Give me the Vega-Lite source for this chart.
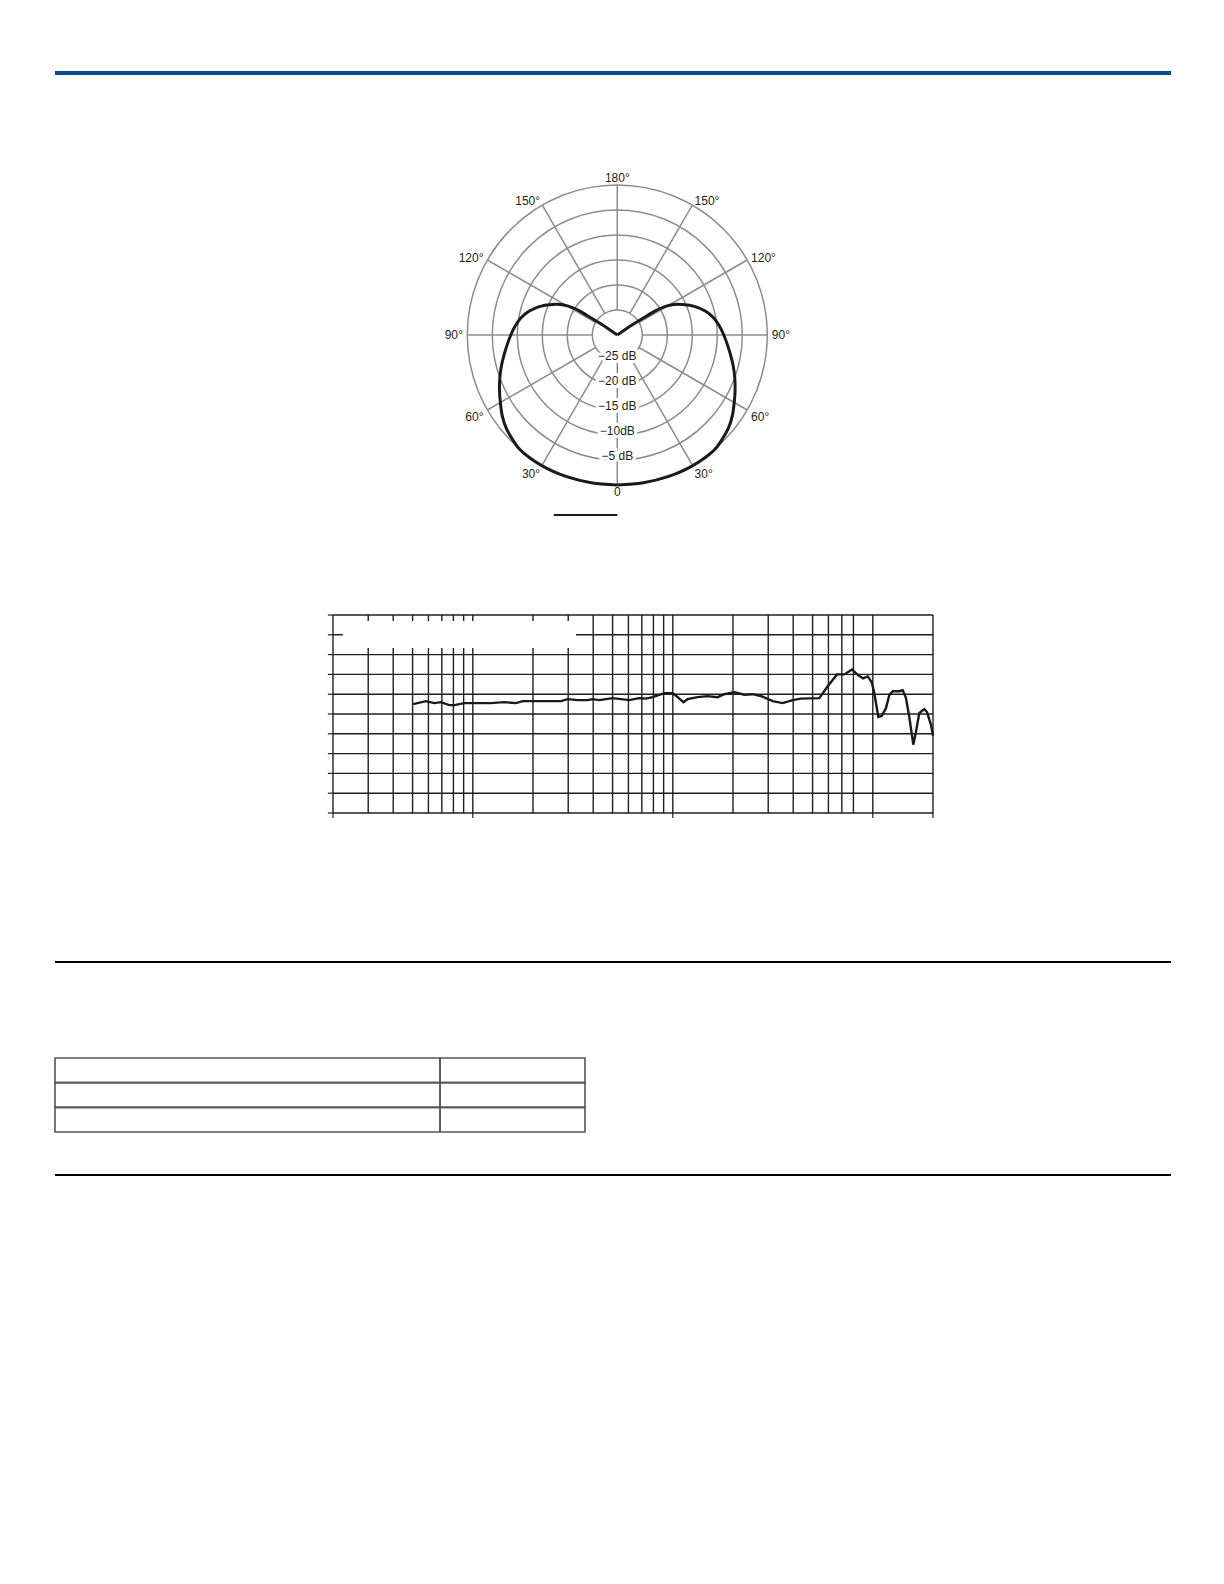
{
  "$schema": "https://vega.github.io/schema/vega-lite/v6.json",
  "padding": {"left": 54, "top": 71, "right": 0, "bottom": 0},
  "background": "white",
  "config": {"view": {"stroke": null}, "font": "Liberation Sans"},
  "datasets": {
    "polar": [
      {"angle": 0, "db": 0}, {"angle": 10, "db": 0}, {"angle": 20, "db": 0.1}, {"angle": 30, "db": 0.2},
      {"angle": 40, "db": 0.1}, {"angle": 45, "db": -0.4}, {"angle": 50, "db": -1.0}, {"angle": 55, "db": -1.9},
      {"angle": 60, "db": -3.0}, {"angle": 65, "db": -4.0}, {"angle": 70, "db": -5.0}, {"angle": 75, "db": -6.0},
      {"angle": 80, "db": -7.0}, {"angle": 85, "db": -7.9}, {"angle": 90, "db": -8.7}, {"angle": 95, "db": -9.5},
      {"angle": 100, "db": -10.4}, {"angle": 105, "db": -11.7}, {"angle": 110, "db": -13.4}, {"angle": 115, "db": -15.6},
      {"angle": 119, "db": -17.5}, {"angle": 122, "db": -20}, {"angle": 123, "db": -23}, {"angle": 124, "db": -26},
      {"angle": 125, "db": -28.5}, {"angle": 180, "db": -30}
    ],
    "angles": [
      {"angle": 0, "label": "0"}, {"angle": 30, "label": "30°"}, {"angle": 60, "label": "60°"},
      {"angle": 90, "label": "90°"}, {"angle": 120, "label": "120°"}, {"angle": 150, "label": "150°"},
      {"angle": 180, "label": "180°"}, {"angle": -30, "label": "30°"}, {"angle": -60, "label": "60°"},
      {"angle": -90, "label": "90°"}, {"angle": -120, "label": "120°"}, {"angle": -150, "label": "150°"}
    ],
    "freq": [
      {"freq": 50.4, "db": 1.0}, {"freq": 58.3, "db": 1.3}, {"freq": 64.2, "db": 1.1}, {"freq": 69.3, "db": 1.2},
      {"freq": 76.3, "db": 0.9}, {"freq": 80.9, "db": 0.9}, {"freq": 90.7, "db": 1.1}, {"freq": 100.6, "db": 1.1},
      {"freq": 123, "db": 1.1}, {"freq": 144, "db": 1.2}, {"freq": 164, "db": 1.1}, {"freq": 178, "db": 1.3},
      {"freq": 199, "db": 1.3}, {"freq": 276, "db": 1.3}, {"freq": 298, "db": 1.5}, {"freq": 334, "db": 1.4},
      {"freq": 375, "db": 1.4}, {"freq": 397, "db": 1.5}, {"freq": 428, "db": 1.4}, {"freq": 463, "db": 1.5},
      {"freq": 500, "db": 1.6}, {"freq": 551, "db": 1.5}, {"freq": 606, "db": 1.4}, {"freq": 678, "db": 1.6},
      {"freq": 735, "db": 1.55}, {"freq": 793, "db": 1.7}, {"freq": 908, "db": 2.1}, {"freq": 998, "db": 2.1},
      {"freq": 1058, "db": 1.7}, {"freq": 1130, "db": 1.2}, {"freq": 1186, "db": 1.5}, {"freq": 1331, "db": 1.7},
      {"freq": 1493, "db": 1.8}, {"freq": 1675, "db": 1.7}, {"freq": 1810, "db": 2.0}, {"freq": 2031, "db": 2.2},
      {"freq": 2279, "db": 1.95}, {"freq": 2508, "db": 2.0}, {"freq": 2814, "db": 1.75}, {"freq": 3158, "db": 1.3},
      {"freq": 3544, "db": 1.1}, {"freq": 3976, "db": 1.4}, {"freq": 4375, "db": 1.55}, {"freq": 5403, "db": 1.6},
      {"freq": 5951, "db": 2.8}, {"freq": 6622, "db": 4.0}, {"freq": 7203, "db": 4.0}, {"freq": 7871, "db": 4.5},
      {"freq": 8464, "db": 3.9}, {"freq": 8934, "db": 3.6}, {"freq": 9432, "db": 3.8}, {"freq": 9878, "db": 3.2},
      {"freq": 10178, "db": 2.1}, {"freq": 10658, "db": -0.3}, {"freq": 11081, "db": -0.2}, {"freq": 11641, "db": 0.6},
      {"freq": 12093, "db": 1.9}, {"freq": 12575, "db": 2.3}, {"freq": 13569, "db": 2.3}, {"freq": 14110, "db": 2.4},
      {"freq": 14655, "db": 1.6}, {"freq": 15224, "db": -0.3}, {"freq": 15942, "db": -3.1}, {"freq": 16444, "db": -1.8},
      {"freq": 17080, "db": 0.1}, {"freq": 18092, "db": 0.5}, {"freq": 18666, "db": 0.2}, {"freq": 19544, "db": -1.1},
      {"freq": 20000, "db": -2.2}
    ]
  },
  "spacing": 0,
  "bounds": "flush",
  "vconcat": [
    {
      "width": 1116, "height": 4,
      "data": {"values": [{"item": "header"}]},
      "mark": {"type": "rect", "color": "#0b4f8c"},
      "encoding": {
        "x": {"datum": 0, "type": "quantitative", "scale": {"domain": [0, 1], "nice": false}, "axis": null},
        "x2": {"datum": 1},
        "y": {"datum": 0, "type": "quantitative", "scale": {"domain": [0, 1], "nice": false}, "axis": null},
        "y2": {"datum": 1}
      }
    },
    {"width": 1, "height": 110, "data": {"values": []}, "mark": "point"},
    {
      "width": 1116, "height": 300,
      "layer": [
        {
          "data": {"values": [{"db": -25}, {"db": -20}, {"db": -15}, {"db": -10}, {"db": -5}, {"db": 0}]},
          "transform": [{"calculate": "datum.db + 30", "as": "r"}],
          "mark": {"type": "point", "shape": "circle", "filled": false, "color": "#8c8c8c", "strokeWidth": 1.5, "opacity": 1},
          "encoding": {
            "x": {"datum": 0, "type": "quantitative", "scale": {"domain": [-30, 30], "range": [412.3, 712.3], "nice": false, "zero": false}, "axis": null},
            "y": {"datum": 0, "type": "quantitative", "scale": {"domain": [-30, 30], "nice": false, "zero": false}, "axis": null},
            "size": {"field": "r", "type": "quantitative", "scale": {"type": "pow", "exponent": 2, "domain": [0, 30], "range": [0, 90000]}, "legend": null}
          }
        },
        {
          "data": {"values": [{"angle": 0}, {"angle": 30}, {"angle": 60}, {"angle": 90}, {"angle": 120}, {"angle": 150}, {"angle": 180}, {"angle": 210}, {"angle": 240}, {"angle": 270}, {"angle": 300}, {"angle": 330}]},
          "transform": [
            {"calculate": "5 * sin(datum.angle * PI / 180)", "as": "xa"},
            {"calculate": "-5 * cos(datum.angle * PI / 180)", "as": "ya"},
            {"calculate": "30 * sin(datum.angle * PI / 180)", "as": "xb"},
            {"calculate": "-30 * cos(datum.angle * PI / 180)", "as": "yb"}
          ],
          "mark": {"type": "rule", "color": "#8c8c8c", "strokeWidth": 1.5},
          "encoding": {
            "x": {"field": "xa", "type": "quantitative", "scale": {"domain": [-30, 30], "range": [412.3, 712.3], "nice": false, "zero": false}, "axis": null},
            "y": {"field": "ya", "type": "quantitative", "scale": {"domain": [-30, 30], "nice": false, "zero": false}, "axis": null},
            "x2": {"field": "xb"},
            "y2": {"field": "yb"}
          }
        },
        {
          "data": {"values": [
            {"db": -25, "label": "−25 dB"}, {"db": -20, "label": "−20 dB"}, {"db": -15, "label": "−15 dB"},
            {"db": -10, "label": "−10dB"}, {"db": -5, "label": "−5 dB"}
          ]},
          "transform": [{"calculate": "-(datum.db + 30)", "as": "ly"}],
          "layer": [
            {
              "mark": {"type": "text", "fontSize": 12, "align": "center", "baseline": "middle", "dy": -4, "stroke": "white", "strokeWidth": 6, "color": "white"},
              "encoding": {
                "x": {"datum": 0, "type": "quantitative", "scale": {"domain": [-30, 30], "range": [412.3, 712.3], "nice": false, "zero": false}, "axis": null},
                "y": {"field": "ly", "type": "quantitative", "scale": {"domain": [-30, 30], "nice": false, "zero": false}, "axis": null},
                "text": {"field": "label"}
              }
            },
            {
              "mark": {"type": "text", "fontSize": 12, "align": "center", "baseline": "middle", "dy": -4, "color": "#231f20"},
              "encoding": {
                "x": {"datum": 0, "type": "quantitative", "scale": {"domain": [-30, 30], "range": [412.3, 712.3], "nice": false, "zero": false}, "axis": null},
                "y": {"field": "ly", "type": "quantitative", "scale": {"domain": [-30, 30], "nice": false, "zero": false}, "axis": null},
                "text": {"field": "label"}
              }
            }
          ]
        },
        {
          "data": {"name": "angles"},
          "transform": [
            {"filter": "datum.angle >= 90 && datum.angle < 180"},
            {"calculate": "30.9 * sin(datum.angle * PI / 180)", "as": "lx"},
            {"calculate": "-30.9 * cos(datum.angle * PI / 180)", "as": "ly"}
          ],
          "mark": {"type": "text", "fontSize": 12, "align": "left", "baseline": "middle", "color": "#231f20"},
          "encoding": {
            "x": {"field": "lx", "type": "quantitative", "scale": {"domain": [-30, 30], "range": [412.3, 712.3], "nice": false, "zero": false}, "axis": null},
            "y": {"field": "ly", "type": "quantitative", "scale": {"domain": [-30, 30], "nice": false, "zero": false}, "axis": null},
            "text": {"field": "label"}
          }
        },
        {
          "data": {"name": "angles"},
          "transform": [
            {"filter": "datum.angle > 0 && datum.angle < 90"},
            {"calculate": "30.9 * sin(datum.angle * PI / 180)", "as": "lx"},
            {"calculate": "-30.9 * cos(datum.angle * PI / 180)", "as": "ly"}
          ],
          "mark": {"type": "text", "fontSize": 12, "align": "left", "baseline": "top", "color": "#231f20"},
          "encoding": {
            "x": {"field": "lx", "type": "quantitative", "scale": {"domain": [-30, 30], "range": [412.3, 712.3], "nice": false, "zero": false}, "axis": null},
            "y": {"field": "ly", "type": "quantitative", "scale": {"domain": [-30, 30], "nice": false, "zero": false}, "axis": null},
            "text": {"field": "label"}
          }
        },
        {
          "data": {"name": "angles"},
          "transform": [
            {"filter": "datum.angle <= -90 && datum.angle > -180"},
            {"calculate": "30.9 * sin(datum.angle * PI / 180)", "as": "lx"},
            {"calculate": "-30.9 * cos(datum.angle * PI / 180)", "as": "ly"}
          ],
          "mark": {"type": "text", "fontSize": 12, "align": "right", "baseline": "middle", "color": "#231f20"},
          "encoding": {
            "x": {"field": "lx", "type": "quantitative", "scale": {"domain": [-30, 30], "range": [412.3, 712.3], "nice": false, "zero": false}, "axis": null},
            "y": {"field": "ly", "type": "quantitative", "scale": {"domain": [-30, 30], "nice": false, "zero": false}, "axis": null},
            "text": {"field": "label"}
          }
        },
        {
          "data": {"name": "angles"},
          "transform": [
            {"filter": "datum.angle < 0 && datum.angle > -90"},
            {"calculate": "30.9 * sin(datum.angle * PI / 180)", "as": "lx"},
            {"calculate": "-30.9 * cos(datum.angle * PI / 180)", "as": "ly"}
          ],
          "mark": {"type": "text", "fontSize": 12, "align": "right", "baseline": "top", "color": "#231f20"},
          "encoding": {
            "x": {"field": "lx", "type": "quantitative", "scale": {"domain": [-30, 30], "range": [412.3, 712.3], "nice": false, "zero": false}, "axis": null},
            "y": {"field": "ly", "type": "quantitative", "scale": {"domain": [-30, 30], "nice": false, "zero": false}, "axis": null},
            "text": {"field": "label"}
          }
        },
        {
          "data": {"name": "angles"},
          "transform": [
            {"filter": "datum.angle == 0 || datum.angle == 180"},
            {"calculate": "31.4 * sin(datum.angle * PI / 180)", "as": "lx"},
            {"calculate": "-31.4 * cos(datum.angle * PI / 180)", "as": "ly"}
          ],
          "mark": {"type": "text", "fontSize": 12, "align": "center", "baseline": "middle", "color": "#231f20"},
          "encoding": {
            "x": {"field": "lx", "type": "quantitative", "scale": {"domain": [-30, 30], "range": [412.3, 712.3], "nice": false, "zero": false}, "axis": null},
            "y": {"field": "ly", "type": "quantitative", "scale": {"domain": [-30, 30], "nice": false, "zero": false}, "axis": null},
            "text": {"field": "label"}
          }
        },
        {
          "data": {"values": [{"item": "legend"}]},
          "mark": {"type": "rule", "color": "#1a1a1a", "strokeWidth": 2.2},
          "encoding": {
            "x": {"datum": -12.7, "type": "quantitative", "scale": {"domain": [-30, 30], "range": [412.3, 712.3], "nice": false, "zero": false}, "axis": null},
            "x2": {"datum": 0},
            "y": {"datum": -36, "type": "quantitative", "scale": {"domain": [-30, 30], "nice": false, "zero": false}, "axis": null}
          }
        },
        {
          "data": {"name": "polar"},
          "transform": [
            {"calculate": "datum.db + 30", "as": "r"},
            {"calculate": "datum.r * sin(datum.angle * PI / 180)", "as": "px"},
            {"calculate": "-datum.r * cos(datum.angle * PI / 180)", "as": "py"}
          ],
          "mark": {"type": "line", "color": "#1a1a1a", "strokeWidth": 3, "interpolate": "catmull-rom"},
          "encoding": {
            "x": {"field": "px", "type": "quantitative", "scale": {"domain": [-30, 30], "range": [412.3, 712.3], "nice": false, "zero": false}, "axis": null},
            "y": {"field": "py", "type": "quantitative", "scale": {"domain": [-30, 30], "nice": false, "zero": false}, "axis": null},
            "order": {"field": "angle", "type": "quantitative"}
          }
        },
        {
          "data": {"name": "polar"},
          "transform": [
            {"calculate": "datum.db + 30", "as": "r"},
            {"calculate": "-datum.r * sin(datum.angle * PI / 180)", "as": "px"},
            {"calculate": "-datum.r * cos(datum.angle * PI / 180)", "as": "py"}
          ],
          "mark": {"type": "line", "color": "#1a1a1a", "strokeWidth": 3, "interpolate": "catmull-rom"},
          "encoding": {
            "x": {"field": "px", "type": "quantitative", "scale": {"domain": [-30, 30], "range": [412.3, 712.3], "nice": false, "zero": false}, "axis": null},
            "y": {"field": "py", "type": "quantitative", "scale": {"domain": [-30, 30], "nice": false, "zero": false}, "axis": null},
            "order": {"field": "angle", "type": "quantitative"}
          }
        }
      ]
    },
    {"width": 1, "height": 130, "data": {"values": []}, "mark": "point"},
    {
      "width": 1116, "height": 198,
      "layer": [
        {
          "data": {"values": [{"level": -10}, {"level": -8}, {"level": -6}, {"level": -4}, {"level": -2}, {"level": 0}, {"level": 2}, {"level": 4}, {"level": 6}, {"level": 8}, {"level": 10}]},
          "layer": [
            {
              "mark": {"type": "rule", "color": "#1e1e1e", "strokeWidth": 1.4},
              "encoding": {
                "x": {"datum": 20, "type": "quantitative", "scale": {"type": "log", "domain": [20, 20000], "range": [278, 878], "nice": false}, "axis": null},
                "x2": {"datum": 20000},
                "y": {"field": "level", "type": "quantitative", "scale": {"domain": [-10, 10], "nice": false, "zero": false}, "axis": null}
              }
            },
            {
              "mark": {"type": "rule", "color": "#1e1e1e", "strokeWidth": 1.2},
              "encoding": {
                "x": {"datum": 18.85, "type": "quantitative", "scale": {"type": "log", "domain": [20, 20000], "range": [278, 878], "nice": false}, "axis": null},
                "x2": {"datum": 20},
                "y": {"field": "level", "type": "quantitative", "scale": {"domain": [-10, 10], "nice": false, "zero": false}, "axis": null}
              }
            }
          ]
        },
        {
          "data": {"values": [
            {"f": 20}, {"f": 30}, {"f": 40}, {"f": 50}, {"f": 60}, {"f": 70}, {"f": 80}, {"f": 90}, {"f": 100},
            {"f": 200}, {"f": 300}, {"f": 400}, {"f": 500}, {"f": 600}, {"f": 700}, {"f": 800}, {"f": 900}, {"f": 1000},
            {"f": 2000}, {"f": 3000}, {"f": 4000}, {"f": 5000}, {"f": 6000}, {"f": 7000}, {"f": 8000}, {"f": 10000}, {"f": 20000}
          ]},
          "mark": {"type": "rule", "color": "#1e1e1e", "strokeWidth": 1.4},
          "encoding": {
            "x": {"field": "f", "type": "quantitative", "scale": {"type": "log", "domain": [20, 20000], "range": [278, 878], "nice": false}, "axis": null},
            "y": {"datum": -10, "type": "quantitative", "scale": {"domain": [-10, 10], "nice": false, "zero": false}, "axis": null},
            "y2": {"datum": 10}
          }
        },
        {
          "data": {"values": [{"f": 20}, {"f": 100}, {"f": 1000}, {"f": 10000}, {"f": 20000}]},
          "mark": {"type": "rule", "color": "#1e1e1e", "strokeWidth": 1.2},
          "encoding": {
            "x": {"field": "f", "type": "quantitative", "scale": {"type": "log", "domain": [20, 20000], "range": [278, 878], "nice": false}, "axis": null},
            "y": {"datum": -10, "type": "quantitative", "scale": {"domain": [-10, 10], "nice": false, "zero": false}, "axis": null},
            "y2": {"datum": -10.5}
          }
        },
        {
          "data": {"values": [{"item": "legend box"}]},
          "mark": {"type": "rect", "color": "white"},
          "encoding": {
            "x": {"datum": 22.4, "type": "quantitative", "scale": {"type": "log", "domain": [20, 20000], "range": [278, 878], "nice": false}, "axis": null},
            "x2": {"datum": 328},
            "y": {"datum": 9.39, "type": "quantitative", "scale": {"domain": [-10, 10], "nice": false, "zero": false}, "axis": null},
            "y2": {"datum": 6.67}
          }
        },
        {
          "data": {"name": "freq"},
          "mark": {"type": "line", "color": "#1a1a1a", "strokeWidth": 2.4},
          "encoding": {
            "x": {"field": "freq", "type": "quantitative", "scale": {"type": "log", "domain": [20, 20000], "range": [278, 878], "nice": false}, "axis": null},
            "y": {"field": "db", "type": "quantitative", "scale": {"domain": [-10, 10], "nice": false, "zero": false}, "axis": null}
          }
        }
      ]
    },
    {"width": 1, "height": 148, "data": {"values": []}, "mark": "point"},
    {
      "width": 1116, "height": 2,
      "data": {"values": [{"item": "rule"}]},
      "mark": {"type": "rect", "color": "#000000"},
      "encoding": {
        "x": {"datum": 0, "type": "quantitative", "scale": {"domain": [0, 1], "nice": false}, "axis": null},
        "x2": {"datum": 1},
        "y": {"datum": 0, "type": "quantitative", "scale": {"domain": [0, 1], "nice": false}, "axis": null},
        "y2": {"datum": 1}
      }
    },
    {"width": 1, "height": 95, "data": {"values": []}, "mark": "point"},
    {
      "width": 1116, "height": 74,
      "data": {"values": [{"row": "1"}, {"row": "2"}, {"row": "3"}]},
      "layer": [
        {
          "mark": {"type": "rect", "fill": "transparent", "stroke": "#555555", "strokeWidth": 1.6},
          "encoding": {
            "x": {"datum": 0, "type": "quantitative", "scale": {"domain": [0, 100], "nice": false}, "axis": null},
            "x2": {"datum": 34.5},
            "y": {"field": "row", "type": "nominal", "scale": {"paddingInner": 0, "paddingOuter": 0}, "axis": null}
          }
        },
        {
          "mark": {"type": "rect", "fill": "transparent", "stroke": "#555555", "strokeWidth": 1.6},
          "encoding": {
            "x": {"datum": 34.5, "type": "quantitative", "scale": {"domain": [0, 100], "nice": false}, "axis": null},
            "x2": {"datum": 47.49},
            "y": {"field": "row", "type": "nominal", "scale": {"paddingInner": 0, "paddingOuter": 0}, "axis": null}
          }
        }
      ]
    },
    {"width": 1, "height": 42, "data": {"values": []}, "mark": "point"},
    {
      "width": 1116, "height": 2,
      "data": {"values": [{"item": "rule"}]},
      "mark": {"type": "rect", "color": "#000000"},
      "encoding": {
        "x": {"datum": 0, "type": "quantitative", "scale": {"domain": [0, 1], "nice": false}, "axis": null},
        "x2": {"datum": 1},
        "y": {"datum": 0, "type": "quantitative", "scale": {"domain": [0, 1], "nice": false}, "axis": null},
        "y2": {"datum": 1}
      }
    }
  ]
}
